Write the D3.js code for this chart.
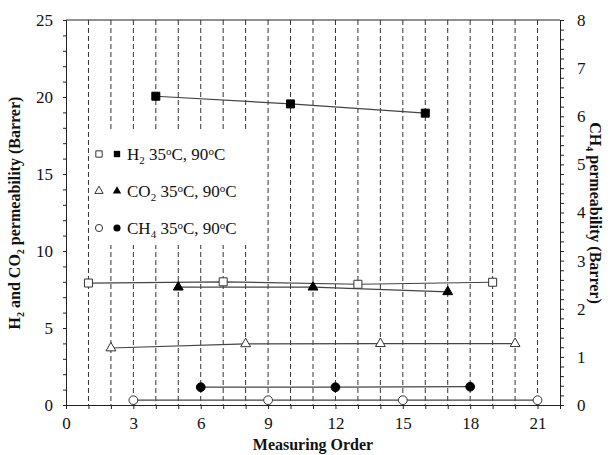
<!DOCTYPE html>
<html>
<head>
<meta charset="utf-8">
<script src="https://cdn.jsdelivr.net/npm/d3@7/dist/d3.min.js"></script>
<style>
  body { margin: 0; background: #fff; }
  text { font-family: "Liberation Serif", "Times New Roman", serif; fill: #111; }
</style>
</head>
<body>
<svg id="chart" width="610" height="455"></svg>
<script>
// data
var h2Low = [[1, 7.92], [7, 8.0], [13, 7.84], [19, 7.97]];
var h2High = [[4, 20.05], [10, 19.55], [16, 18.95]];
var co2Low = [[2, 3.7], [8, 3.97], [14, 3.98], [20, 3.98]];
var co2High = [[5, 7.65], [11, 7.65], [17, 7.35]];
var ch4Low = [[3, 0.1], [9, 0.1], [15, 0.1], [21, 0.1]];
var ch4High = [[6, 0.37], [12, 0.37], [18, 0.38]];

var xTicks = [0, 3, 6, 9, 12, 15, 18, 21];
var leftTicks = [0, 5, 10, 15, 20, 25];
var rightTicks = [0, 1, 2, 3, 4, 5, 6, 7, 8];
var legendNames = ["H", "CO", "CH"];
var legendSubs = ["2", "2", "4"];

var svg = d3.select("#chart");
// plot frame (pixels)
var plotLeft = 66, plotRight = 560, plotTop = 20, plotBottom = 405;

var x = d3.scaleLinear().domain([0, 22]).range([plotLeft, plotRight]);
var yL = d3.scaleLinear().domain([0, 25]).range([plotBottom, plotTop]);
var yR = d3.scaleLinear().domain([0, 8]).range([plotBottom, plotTop]);

// dashed verticals at every measurement
svg.append("g")
    .selectAll("line")
    .data(d3.range(1, 22))
    .enter()
    .append("line")
    .attr("x1", function (d) { return x(d); })
    .attr("x2", function (d) { return x(d); })
    .attr("y1", plotTop)
    .attr("y2", plotBottom)
    .attr("stroke", "#333")
    .attr("stroke-width", 1)
    .attr("stroke-dasharray", "5,3");

// legend box hides grid behind it
svg.append("rect")
    .attr("x", 91).attr("y", 130)
    .attr("width", 166).attr("height", 115)
    .attr("fill", "#fff");

// axes
var xAxis = d3.axisBottom(x).tickValues(d3.range(0, 23)).tickSize(4).tickFormat("");
svg.append("g").attr("transform", "translate(0," + plotBottom + ")").call(xAxis);
svg.append("g").attr("transform", "translate(0," + plotBottom + ")")
    .call(d3.axisBottom(x).tickValues(xTicks).tickSize(0).tickPadding(12));

svg.append("g").attr("transform", "translate(" + plotLeft + ",0)")
    .call(d3.axisLeft(yL).tickValues(d3.range(0, 26)).tickSize(3).tickFormat(""));
svg.append("g").attr("transform", "translate(" + plotLeft + ",0)")
    .call(d3.axisLeft(yL).tickValues(leftTicks).tickSize(0).tickPadding(13));

svg.append("g").attr("transform", "translate(" + plotRight + ",0)")
    .call(d3.axisRight(yR).tickValues(d3.range(0, 41).map(function (d) { return d / 5; })).tickSize(4).tickFormat(""));
svg.append("g").attr("transform", "translate(" + plotRight + ",0)")
    .call(d3.axisRight(yR).tickValues(rightTicks).tickSize(0).tickPadding(17));

svg.append("line")
    .attr("x1", plotLeft).attr("x2", plotRight)
    .attr("y1", plotTop).attr("y2", plotTop)
    .attr("stroke", "#222");

svg.selectAll(".domain").attr("stroke", "#222");
svg.selectAll(".tick line").attr("stroke", "#222");
svg.selectAll(".tick text")
    .style("font-family", "Liberation Serif, serif")
    .style("font-size", "17px")
    .attr("fill", "#111");

// series lines
var lineL = d3.line().x(function (d) { return x(d[0]); }).y(function (d) { return yL(d[1]); });
var lineR = d3.line().x(function (d) { return x(d[0]); }).y(function (d) { return yR(d[1]); });

[h2Low, h2High, co2Low, co2High].forEach(function (s) {
    svg.append("path").attr("d", lineL(s))
        .attr("fill", "none").attr("stroke", "#444").attr("stroke-width", 1.2);
});
[ch4Low, ch4High].forEach(function (s) {
    svg.append("path").attr("d", lineR(s))
        .attr("fill", "none").attr("stroke", "#444").attr("stroke-width", 1.2);
});

var sq = d3.symbol().type(d3.symbolSquare).size(64);
var tri = d3.symbol().type(d3.symbolTriangle).size(42);
var circ = d3.symbol().type(d3.symbolCircle).size(60);

function markers(data, y, sym, filled) {
    svg.append("g").selectAll("path")
        .data(data)
        .enter()
        .append("path")
        .attr("d", sym)
        .attr("transform", function (d) { return "translate(" + x(d[0]) + "," + y(d[1]) + ")"; })
        .attr("fill", filled ? "#000" : "#fff")
        .attr("stroke", filled ? "#000" : "#333")
        .attr("stroke-width", 1);
}
markers(h2Low, yL, sq, false);
markers(h2High, yL, sq, true);
markers(co2Low, yL, tri, false);
markers(co2High, yL, tri, true);
markers(ch4Low, yR, circ, false);
markers(ch4High, yR, circ, true);

// legend
var legSyms = [d3.symbol().type(d3.symbolSquare).size(40), d3.symbol().type(d3.symbolTriangle).size(30), d3.symbol().type(d3.symbolCircle).size(40)];
var legY = [154, 191, 228];
legendNames.forEach(function (n, i) {
    svg.append("path").attr("d", legSyms[i])
        .attr("transform", "translate(99," + legY[i] + ")")
        .attr("fill", "#fff").attr("stroke", "#333");
    svg.append("path").attr("d", legSyms[i])
        .attr("transform", "translate(117," + legY[i] + ")")
        .attr("fill", "#000");
    var t = svg.append("text")
        .attr("x", 127).attr("y", legY[i] + 6)
        .style("font-size", "17px");
    t.append("tspan").text(n);
    t.append("tspan").attr("dy", 4).style("font-size", "11px").text(legendSubs[i]);
    t.append("tspan").attr("dy", -4).text(" 35");
    t.append("tspan").attr("dy", -5).style("font-size", "11px").text("o");
    t.append("tspan").attr("dy", 5).text("C, 90");
    t.append("tspan").attr("dy", -5).style("font-size", "11px").text("o");
    t.append("tspan").attr("dy", 5).text("C");
});

// axis titles
svg.append("text")
    .attr("x", 313).attr("y", 450)
    .attr("text-anchor", "middle")
    .style("font-size", "16px").style("font-weight", "bold")
    .text("Measuring Order");

var yt = svg.append("text")
    .attr("transform", "translate(20,213) rotate(-90)")
    .attr("text-anchor", "middle")
    .style("font-size", "16px").style("font-weight", "bold");
yt.append("tspan").text("H");
yt.append("tspan").attr("dy", 4).style("font-size", "10px").text("2");
yt.append("tspan").attr("dy", -4).text(" and CO");
yt.append("tspan").attr("dy", 4).style("font-size", "10px").text("2");
yt.append("tspan").attr("dy", -4).text(" permeability (Barrer)");

var rt = svg.append("text")
    .attr("transform", "translate(590,213) rotate(90)")
    .attr("text-anchor", "middle")
    .style("font-size", "16px").style("font-weight", "bold");
rt.append("tspan").text("CH");
rt.append("tspan").attr("dy", 4).style("font-size", "10px").text("4");
rt.append("tspan").attr("dy", -4).text(" permeability (Barrer)");
</script>
</body>
</html>
